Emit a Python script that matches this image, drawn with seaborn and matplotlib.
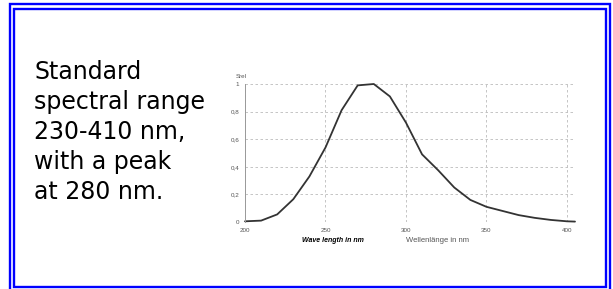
import matplotlib
matplotlib.use("Agg")
import matplotlib.pyplot as plt
import seaborn as sns
import pandas as pd
from matplotlib.patches import Rectangle

wavelength = [200, 210, 220, 230, 240, 250, 260, 270, 280, 290, 300, 310, 320, 330, 340, 350, 360, 370, 380, 390, 400, 405]
srel = [0.005, 0.01, 0.055, 0.165, 0.33, 0.54, 0.81, 0.99, 1.0, 0.91, 0.72, 0.49, 0.375, 0.25, 0.16, 0.11, 0.08, 0.05, 0.03, 0.015, 0.005, 0.003]
x_ticks = [200, 250, 300, 350, 400]
y_ticks = [0, 0.2, 0.4, 0.6, 0.8, 1.0]
y_tick_labels = ["0", "0,2", "0,4", "0,6", "0,8", "1"]
caption_lines = ["Standard", "spectral range", "230-410 nm,", "with a peak", "at 280 nm."]

sns.set_style("white")
plt.rcParams['font.family'] = ['Liberation Sans', 'DejaVu Sans']

W, H = 613, 289
fig = plt.figure(figsize=(W / 100, H / 100), dpi=100)

def fx(px):
    return px / W

def fy(py):
    return 1 - py / H

# double blue frame
for (l, t, r, b) in [(9.5, 3.5, 610.0, 295.0), (14.0, 9.0, 605.5, 286.5)]:
    fig.patches.append(Rectangle((fx(l), fy(b)), fx(r) - fx(l), fy(t) - fy(b),
                                 transform=fig.transFigure, fill=False,
                                 edgecolor="#0000ff", linewidth=1.7, zorder=5))

ax = fig.add_axes([fx(245), fy(222), fx(575) - fx(245), fy(84) - fy(222)])
df = pd.DataFrame({"wavelength": wavelength, "srel": srel})
sns.lineplot(data=df, x="wavelength", y="srel", ax=ax, color="#333333", linewidth=1.3)
for line in ax.lines:
    line.set_clip_on(False)

ax.set_xlim(200, 405)
ax.set_ylim(0, 1)
ax.set_xticks(x_ticks)
ax.set_xticklabels([str(v) for v in x_ticks])
ax.set_yticks(y_ticks)
ax.set_yticklabels(y_tick_labels)
ax.tick_params(axis="both", length=0, labelsize=4.5, labelcolor="#555555", pad=4)
ax.set_xlabel("")
ax.set_ylabel("")
for s in ["top", "right", "bottom"]:
    ax.spines[s].set_visible(False)
ax.spines["left"].set_color("#999999")
ax.spines["left"].set_linewidth(0.7)
ax.grid(True, color="#bbbbbb", linestyle=(0, (3, 3)), linewidth=0.6)
ax.set_axisbelow(True)

fig.text(fx(236), fy(76), "Srel", fontsize=4.5, color="#555555", va="center", ha="left")
fig.text(fx(333), fy(240), "Wave length in nm", fontsize=5, color="#000000",
         fontweight="bold", fontstyle="italic", ha="center", va="center")
fig.text(fx(438), fy(241), "Wellenlänge in nm", fontsize=5.5, color="#555555",
         ha="center", va="center")

for i, txt in enumerate(caption_lines):
    fig.text(fx(34), fy(79 + 30 * i), txt, fontsize=17, color="#000000",
             ha="left", va="baseline", family=["DejaVu Sans"])

fig.savefig("out.png", dpi=100)
